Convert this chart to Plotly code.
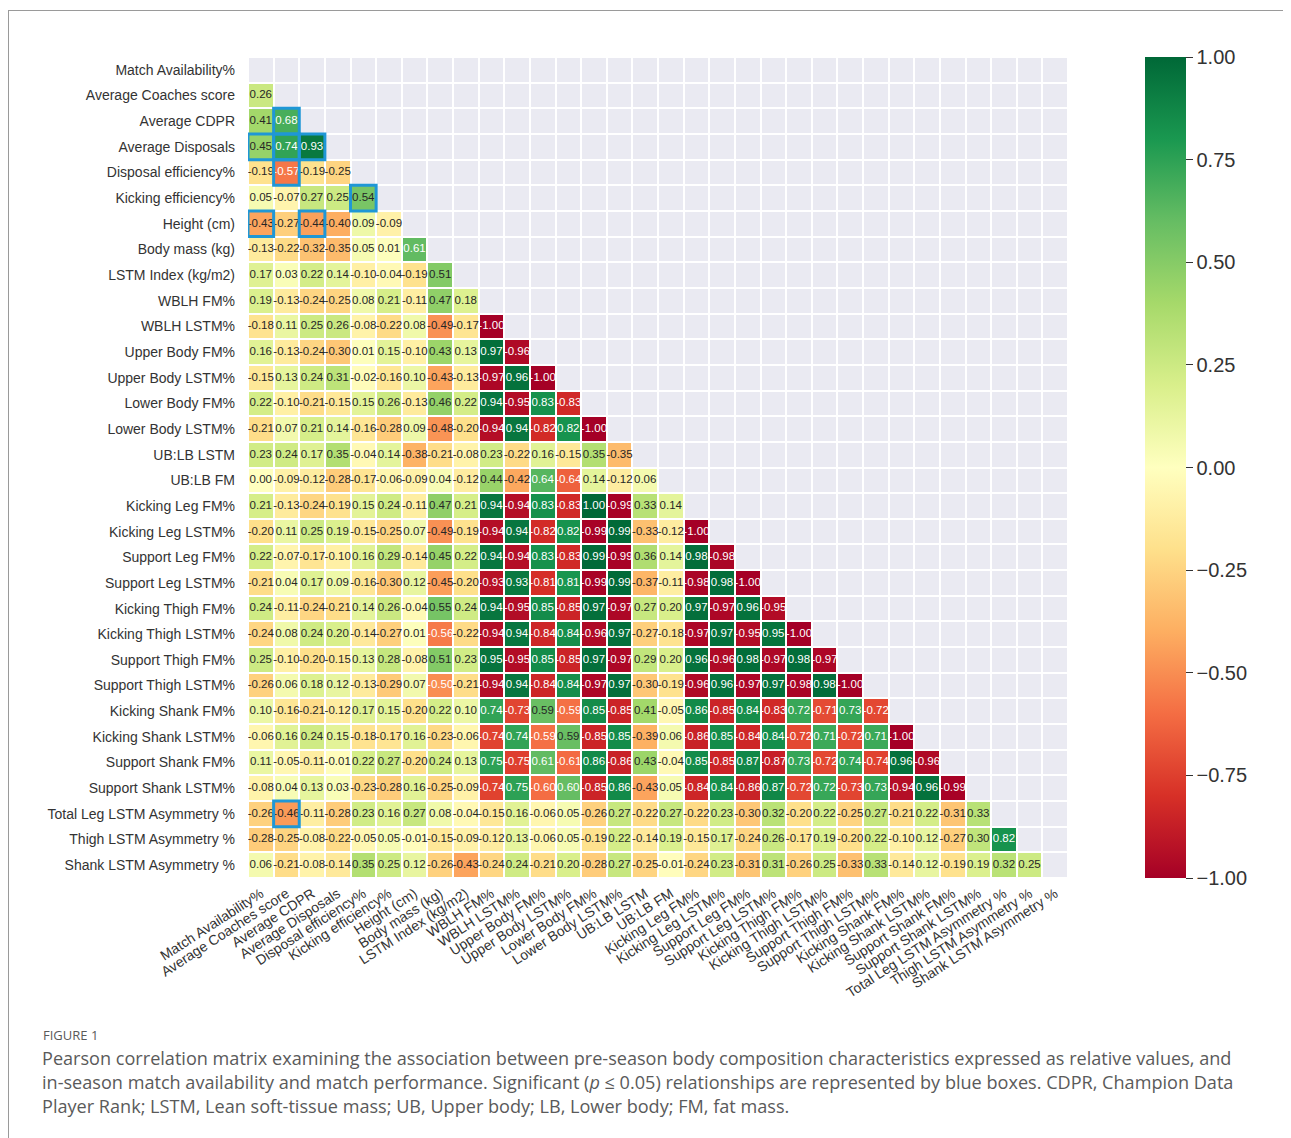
import plotly.graph_objects as go

labels = [
    "Match Availability%", "Average Coaches score", "Average CDPR", "Average Disposals",
    "Disposal efficiency%", "Kicking efficiency%", "Height (cm)", "Body mass (kg)",
    "LSTM Index (kg/m2)", "WBLH FM%", "WBLH LSTM%", "Upper Body FM%", "Upper Body LSTM%",
    "Lower Body FM%", "Lower Body LSTM%", "UB:LB LSTM", "UB:LB FM", "Kicking Leg FM%",
    "Kicking Leg LSTM%", "Support Leg FM%", "Support Leg LSTM%", "Kicking Thigh FM%",
    "Kicking Thigh LSTM%", "Support Thigh FM%", "Support Thigh LSTM%", "Kicking Shank FM%",
    "Kicking Shank LSTM%", "Support Shank FM%", "Support Shank LSTM%",
    "Total Leg LSTM Asymmetry %", "Thigh LSTM Asymmetry %", "Shank LSTM Asymmetry %",
]

# lower-triangle correlation values, row i has i entries (columns 0..i-1)
lower_rows = [
    [],
    [0.26],
    [0.41, 0.68],
    [0.45, 0.74, 0.93],
    [-0.19, -0.57, -0.19, -0.25],
    [0.05, -0.07, 0.27, 0.25, 0.54],
    [-0.43, -0.27, -0.44, -0.40, 0.09, -0.09],
    [-0.13, -0.22, -0.32, -0.35, 0.05, 0.01, 0.61],
    [0.17, 0.03, 0.22, 0.14, -0.10, -0.04, -0.19, 0.51],
    [0.19, -0.13, -0.24, -0.25, 0.08, 0.21, -0.11, 0.47, 0.18],
    [-0.18, 0.11, 0.25, 0.26, -0.08, -0.22, 0.08, -0.49, -0.17, -1.00],
    [0.16, -0.13, -0.24, -0.30, 0.01, 0.15, -0.10, 0.43, 0.13, 0.97, -0.96],
    [-0.15, 0.13, 0.24, 0.31, -0.02, -0.16, 0.10, -0.43, -0.13, -0.97, 0.96, -1.00],
    [0.22, -0.10, -0.21, -0.15, 0.15, 0.26, -0.13, 0.46, 0.22, 0.94, -0.95, 0.83, -0.83],
    [-0.21, 0.07, 0.21, 0.14, -0.16, -0.28, 0.09, -0.48, -0.20, -0.94, 0.94, -0.82, 0.82, -1.00],
    [0.23, 0.24, 0.17, 0.35, -0.04, 0.14, -0.38, -0.21, -0.08, 0.23, -0.22, 0.16, -0.15, 0.35, -0.35],
    [0.00, -0.09, -0.12, -0.28, -0.17, -0.06, -0.09, 0.04, -0.12, 0.44, -0.42, 0.64, -0.64, 0.14, -0.12, 0.06],
    [0.21, -0.13, -0.24, -0.19, 0.15, 0.24, -0.11, 0.47, 0.21, 0.94, -0.94, 0.83, -0.83, 1.00, -0.99, 0.33, 0.14],
    [-0.20, 0.11, 0.25, 0.19, -0.15, -0.25, 0.07, -0.49, -0.19, -0.94, 0.94, -0.82, 0.82, -0.99, 0.99, -0.33, -0.12, -1.00],
    [0.22, -0.07, -0.17, -0.10, 0.16, 0.29, -0.14, 0.45, 0.22, 0.94, -0.94, 0.83, -0.83, 0.99, -0.99, 0.36, 0.14, 0.98, -0.98],
    [-0.21, 0.04, 0.17, 0.09, -0.16, -0.30, 0.12, -0.45, -0.20, -0.93, 0.93, -0.81, 0.81, -0.99, 0.99, -0.37, -0.11, -0.98, 0.98, -1.00],
    [0.24, -0.11, -0.24, -0.21, 0.14, 0.26, -0.04, 0.55, 0.24, 0.94, -0.95, 0.85, -0.85, 0.97, -0.97, 0.27, 0.20, 0.97, -0.97, 0.96, -0.95],
    [-0.24, 0.08, 0.24, 0.20, -0.14, -0.27, 0.01, -0.56, -0.22, -0.94, 0.94, -0.84, 0.84, -0.96, 0.97, -0.27, -0.18, -0.97, 0.97, -0.95, 0.95, -1.00],
    [0.25, -0.10, -0.20, -0.15, 0.13, 0.28, -0.08, 0.51, 0.23, 0.95, -0.95, 0.85, -0.85, 0.97, -0.97, 0.29, 0.20, 0.96, -0.96, 0.98, -0.97, 0.98, -0.97],
    [-0.26, 0.06, 0.18, 0.12, -0.13, -0.29, 0.07, -0.50, -0.21, -0.94, 0.94, -0.84, 0.84, -0.97, 0.97, -0.30, -0.19, -0.96, 0.96, -0.97, 0.97, -0.98, 0.98, -1.00],
    [0.10, -0.16, -0.21, -0.12, 0.17, 0.15, -0.20, 0.22, 0.10, 0.74, -0.73, 0.59, -0.59, 0.85, -0.85, 0.41, -0.05, 0.86, -0.85, 0.84, -0.83, 0.72, -0.71, 0.73, -0.72],
    [-0.06, 0.16, 0.24, 0.15, -0.18, -0.17, 0.16, -0.23, -0.06, -0.74, 0.74, -0.59, 0.59, -0.85, 0.85, -0.39, 0.06, -0.86, 0.85, -0.84, 0.84, -0.72, 0.71, -0.72, 0.71, -1.00],
    [0.11, -0.05, -0.11, -0.01, 0.22, 0.27, -0.20, 0.24, 0.13, 0.75, -0.75, 0.61, -0.61, 0.86, -0.86, 0.43, -0.04, 0.85, -0.85, 0.87, -0.87, 0.73, -0.72, 0.74, -0.74, 0.96, -0.96],
    [-0.08, 0.04, 0.13, 0.03, -0.23, -0.28, 0.16, -0.25, -0.09, -0.74, 0.75, -0.60, 0.60, -0.85, 0.86, -0.43, 0.05, -0.84, 0.84, -0.86, 0.87, -0.72, 0.72, -0.73, 0.73, -0.94, 0.96, -0.99],
    [-0.26, -0.46, -0.11, -0.28, 0.23, 0.16, 0.27, 0.08, -0.04, -0.15, 0.16, -0.06, 0.05, -0.26, 0.27, -0.22, 0.27, -0.22, 0.23, -0.30, 0.32, -0.20, 0.22, -0.25, 0.27, -0.21, 0.22, -0.31, 0.33],
    [-0.28, -0.25, -0.08, -0.22, -0.05, 0.05, -0.01, -0.15, -0.09, -0.12, 0.13, -0.06, 0.05, -0.19, 0.22, -0.14, 0.19, -0.15, 0.17, -0.24, 0.26, -0.17, 0.19, -0.20, 0.22, -0.10, 0.12, -0.27, 0.30, 0.82],
    [0.06, -0.21, -0.08, -0.14, 0.35, 0.25, 0.12, -0.26, -0.43, -0.24, 0.24, -0.21, 0.20, -0.28, 0.27, -0.25, -0.01, -0.24, 0.23, -0.31, 0.31, -0.26, 0.25, -0.33, 0.33, -0.14, 0.12, -0.19, 0.19, 0.32, 0.25],
]

# significant (p <= 0.05) cells: (row, column)
significant = [(2, 1), (3, 0), (3, 1), (3, 2), (4, 1), (5, 4), (6, 0), (6, 2), (29, 1)]

cbar_ticks = [1.0, 0.75, 0.5, 0.25, 0.0, -0.25, -0.5, -0.75, -1.0]

caption_title = "FIGURE 1"
caption_lines = [
    "Pearson correlation matrix examining the association between pre-season body composition characteristics expressed as relative values, and",
    "in-season match availability and match performance. Significant (<i>p</i> ≤ 0.05) relationships are represented by blue boxes. CDPR, Champion Data",
    "Player Rank; LSTM, Lean soft-tissue mass; UB, Upper body; LB, Lower body; FM, fat mass.",
]

# ---------------------------------------------------------------- styling
RDYLGN = ["#a50026", "#d73027", "#f46d43", "#fdae61", "#fee08b", "#ffffbf",
          "#d9ef8b", "#a6d96a", "#66bd63", "#1a9850", "#006837"]
colorscale = [[i / 10, c] for i, c in enumerate(RDYLGN)]


def hex2rgb(h):
    h = h.lstrip("#")
    return [int(h[i:i + 2], 16) for i in (0, 2, 4)]


def cmap(v):
    t = (v + 1) / 2 * 10
    k = min(int(t), 9)
    f = t - k
    a, b = hex2rgb(RDYLGN[k]), hex2rgb(RDYLGN[k + 1])
    return [a[i] + (b[i] - a[i]) * f for i in range(3)]


def luminance(rgb):
    def ch(c):
        c = c / 255
        return c / 12.92 if c <= 0.03928 else ((c + 0.055) / 1.055) ** 2.4
    r, g, b = (ch(c) for c in rgb)
    return 0.2126 * r + 0.7152 * g + 0.0722 * b


# page body has an 8px margin; lay the figure out in page pixels minus that offset
OFF = 8
W, H = 1291 - OFF, 1138 - OFF
L, R, T, B = 248 - OFF, 1068 - OFF, 57 - OFF, 878 - OFF


def px_x(px):
    return (px - OFF - L) / (R - L)


def px_y(py):
    return (B - (py - OFF)) / (B - T)


n = len(labels)
z = [[lower_rows[i][j] if j < i else None for j in range(n)] for i in range(n)]
mask_z = [[1 if j >= i else None for j in range(n)] for i in range(n)]

tx, ty, tt, tc = [], [], [], []
for i in range(n):
    for j in range(i):
        v = lower_rows[i][j]
        tx.append(labels[j])
        ty.append(labels[i])
        tt.append(f"{v:.2f}")
        tc.append("#262626" if luminance(cmap(v)) > 0.408 else "#ffffff")

fig = go.Figure()
fig.add_trace(go.Heatmap(
    z=mask_z, x=labels, y=labels, xgap=2, ygap=2,
    colorscale=[[0, "#EAEAF2"], [1, "#EAEAF2"]], showscale=False, hoverinfo="skip",
))
fig.add_trace(go.Heatmap(
    z=z, x=labels, y=labels, xgap=2, ygap=2, zmin=-1, zmax=1,
    colorscale=colorscale, hoverinfo="skip",
    colorbar=dict(
        x=px_x(1145), xanchor="left", xref="paper", xpad=0,
        y=0.5, yanchor="middle", ypad=0,
        len=1.0, lenmode="fraction", thickness=41, outlinewidth=0,
        tickvals=cbar_ticks, tickformat=".2f", ticks="outside", ticklen=7,
        tickcolor="#333333", tickwidth=1.2,
        tickfont=dict(family="Arial, Liberation Sans", size=20, color="#333333"),
    ),
))
fig.add_trace(go.Scatter(
    x=tx, y=ty, text=tt, mode="text", hoverinfo="skip", showlegend=False,
    textfont=dict(family="Arial, Liberation Sans", size=11.5, color=tc),
))

shapes = []
for (i, j) in significant:
    shapes.append(dict(type="rect", xref="x", yref="y",
                       x0=j - 0.5, x1=j + 0.5, y0=i - 0.5, y1=i + 0.5,
                       line=dict(color="#1F97D6", width=3), fillcolor="rgba(0,0,0,0)"))
# frame around the figure
shapes.append(dict(type="line", xref="paper", yref="paper",
                   x0=px_x(8.5), x1=px_x(8.5), y0=px_y(10), y1=px_y(1145),
                   line=dict(color="#9a9a9a", width=1)))
shapes.append(dict(type="line", xref="paper", yref="paper",
                   x0=px_x(8.5), x1=px_x(1300), y0=px_y(10.5), y1=px_y(10.5),
                   line=dict(color="#9a9a9a", width=1)))

annotations = [dict(
    x=px_x(41), y=px_y(1035), xref="paper", yref="paper", xanchor="left", yanchor="middle",
    text=caption_title, showarrow=False,
    font=dict(family="Open Sans, Noto Sans", size=13, color="#5a5a5a"),
)]
for k, line in enumerate(caption_lines):
    annotations.append(dict(
        x=px_x(40), y=px_y(1058 + 24 * k), xref="paper", yref="paper",
        xanchor="left", yanchor="middle", text=line, showarrow=False,
        font=dict(family="Open Sans, Noto Sans", size=18.1, color="#5a5a5a"),
    ))

fig.update_layout(
    width=W, height=H,
    margin=dict(l=L, r=W - R, t=T, b=H - B, autoexpand=False),
    paper_bgcolor="white", plot_bgcolor="white",
    shapes=shapes, annotations=annotations, showlegend=False,
    xaxis=dict(range=[-0.5, n - 0.5], showgrid=False, zeroline=False, tickangle=-33,
               tickfont=dict(family="Arial, Liberation Sans", size=14, color="#333333"),
               ticklabelstandoff=4, showline=False),
    yaxis=dict(range=[n - 0.5, -0.5], showgrid=False, zeroline=False,
               tickfont=dict(family="Arial, Liberation Sans", size=14, color="#333333"),
               ticklabelstandoff=12, showline=False),
)

fig.write_html("out.html")
